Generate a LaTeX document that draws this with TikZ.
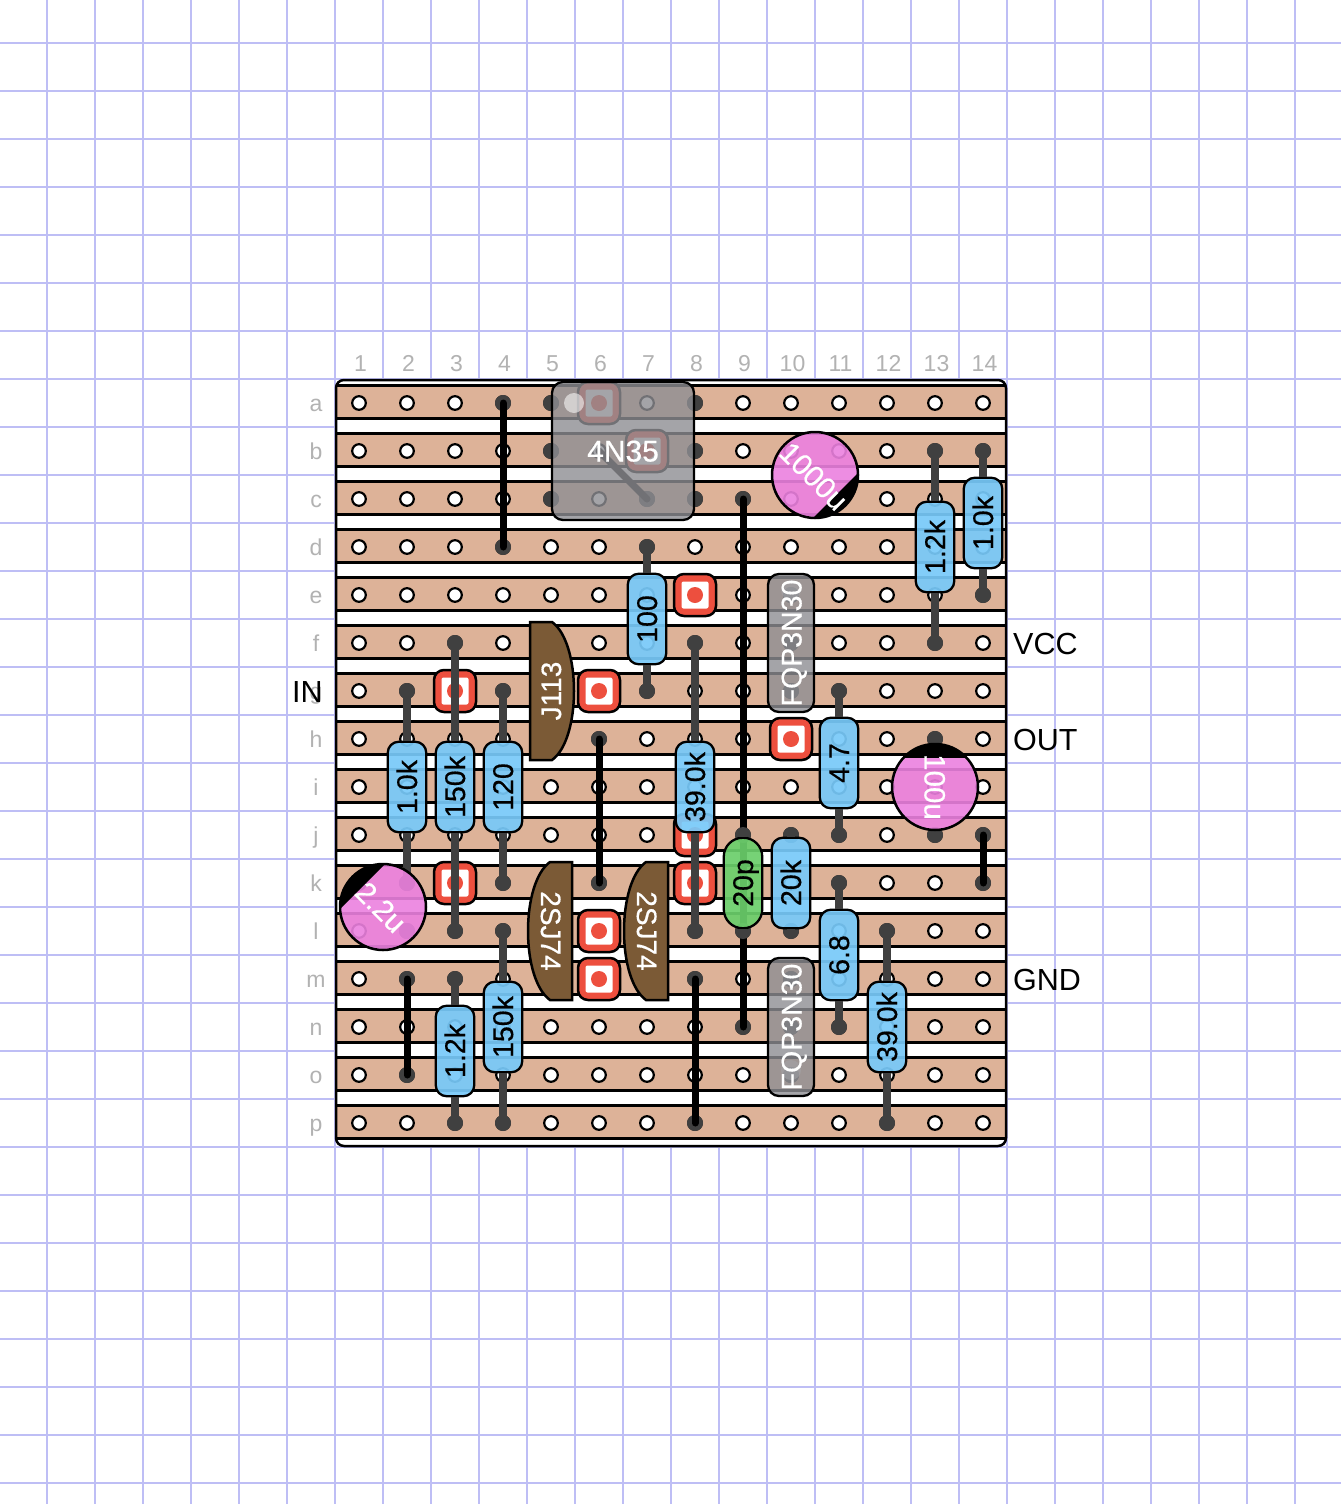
\documentclass[tikz,border=0pt]{standalone}
\usepackage{fontspec}
\setmainfont{Liberation Sans}
\newfontfamily\partfont[RawFeature={embolden=0.5}]{Liberation Sans}
\usetikzlibrary{calc}
\definecolor{gridc}{RGB}{190,190,245}
\definecolor{stripc}{RGB}{221,178,152}
\definecolor{labelc}{RGB}{178,178,178}
\definecolor{soldc}{RGB}{64,64,64}
\definecolor{padc}{RGB}{237,79,62}
\definecolor{resc}{RGB}{120,201,249}
\definecolor{greenc}{RGB}{107,207,107}
\definecolor{pinkc}{RGB}{236,129,223}
\definecolor{brownc}{RGB}{123,90,54}
\definecolor{icc}{RGB}{142,142,147}
\newcommand{\fsz}[1]{\fontsize{#1}{#1}\selectfont}
\tikzset{
  gridline/.style={draw=gridc,line width=2pt},
  boardline/.style={draw=black,line width=2.5pt},
  strip/.style={fill=stripc},
  stripline/.style={draw=black,line width=3pt},
  hole/.style={circle,draw=black,line width=2.2pt,fill=white,minimum size=13.6pt,inner sep=0pt},
  solder/.style={circle,fill=soldc,minimum size=16pt,inner sep=0pt},
  wireline/.style={draw=black,line width=7pt,line cap=round},
  leadline/.style={draw=soldc,line width=8.5pt},
  padbox/.style={rectangle,rounded corners=10pt,draw=black,line width=2.5pt,fill=padc,minimum size=42pt,inner sep=0pt},
  padin/.style={rectangle,rounded corners=2pt,fill=white,minimum size=27pt,inner sep=0pt},
  paddot/.style={circle,fill=padc,minimum size=16pt,inner sep=0pt},
  resbody/.style={rectangle,rounded corners=11pt,draw=black,line width=2.3pt,fill=resc,fill opacity=.92,draw opacity=1,text opacity=1,minimum width=90.5pt,minimum height=38.5pt,inner sep=0pt,font={\partfont\fsz{28.5}},text=black,text height=20pt,text depth=0pt},
  capbody/.style={resbody,rounded corners=19pt,fill=greenc},
  elbody/.style={circle,fill=pinkc,fill opacity=.9,minimum size=86pt,inner sep=0pt},
  elring/.style={draw=black,line width=2.5pt},
  eltext/.style={inner sep=0pt,text=white,font={\partfont\fsz{29.5}},text height=21pt,text depth=0pt},
  icbody/.style={rectangle,rounded corners=11pt,draw=black,line width=2.3pt,fill=icc,fill opacity=.8,draw opacity=1,text opacity=1,inner sep=0pt,text=white,text height=21pt,text depth=0pt},
  pindot/.style={circle,fill=white,fill opacity=.55,minimum size=20pt,inner sep=0pt},
  brownbody/.style={draw=black,line width=2.5pt,fill=brownc},
  browntext/.style={inner sep=0pt,text=white,font={\partfont\fsz{28}},text height=20pt,text depth=0pt},
  gridlabel/.style={inner sep=0pt,anchor=base,text=labelc,font=\fsz{23}},
  termlabel/.style={inner sep=0pt,anchor=base west,text=black,font=\fsz{30.5}},
}
\newcommand{\resistor}[5][resbody]{%
  \node[solder] (#2t) at (#3) {};
  \node[solder] (#2b) at (#4) {};
  \node[#1,rotate=90] (#2) at ($(#3)!.5!(#4)$) {#5};
  \draw[leadline] (#2t.center) -- (#2.east);
  \draw[leadline] (#2b.center) -- (#2.west);
}
\newcommand{\wire}[3]{%
  \node[solder] (#1t) at (#2) {};
  \node[solder] (#1b) at (#3) {};
  \draw[wireline] (#1t.center) -- (#1b.center);
}
\newcommand{\padat}[1]{%
  \node[padbox] (pad#1) at (#1) {};
  \node[padin] (padi#1) at (#1) {};
  \node[paddot] (padd#1) at (#1) {};
}
\begin{document}
\begin{tikzpicture}[x=1pt,y=-1pt]
\useasboundingbox (0,0) rectangle (1341,1504);
\fill[white] (0,0) rectangle (1341,1504);
% grid paper
\foreach \i in {0,...,26} \draw[gridline] ({47+48*\i},0) -- ({47+48*\i},1504);
\foreach \i in {0,...,30} \draw[gridline] (0,{43+48*\i}) -- (1341,{43+48*\i});
% board
\fill[white,rounded corners=8pt] (336,380) rectangle (1006,1146);
\begin{scope}
  \clip[rounded corners=8pt] (336,380) rectangle (1006,1146);
  \foreach \r [count=\i from 0] in {a,b,c,d,e,f,g,h,i,j,k,l,m,n,o,p} {
    \fill[strip] (330,{385+48*\i}) rectangle (1012,{418+48*\i});
    \draw[stripline] (330,{385+48*\i}) -- (1012,{385+48*\i});
    \draw[stripline] (330,{418+48*\i}) -- (1012,{418+48*\i});
  }
\end{scope}
\draw[boardline,rounded corners=8pt] (336,380) rectangle (1006,1146);
% coordinates and holes
\foreach \r [count=\i from 0] in {a,b,c,d,e,f,g,h,i,j,k,l,m,n,o,p} {
  \foreach \c in {1,...,14} {
    \coordinate (\r\c) at ({359+48*(\c-1)},{403+48*\i});
    \node[hole] (hole\r\c) at (\r\c) {};
  }
  \node[gridlabel] (row\r) at (316,{411+48*\i}) {\r};
}
\foreach \c in {1,...,14} \node[gridlabel] (col\c) at ({360.5+48*(\c-1)},371) {\c};
% terminal labels
\node[termlabel] (lblin) at (292,702) {IN};
\node[termlabel] (lblvcc) at (1013,654) {VCC};
\node[termlabel] (lblout) at (1013,750) {OUT};
\node[termlabel] (lblgnd) at (1013,990) {GND};
% pads under parts
\foreach \p in {a6,b7,e8,g3,g6,h10,j8,k3,k8,l6,m6} { \padat{\p} }
% optocoupler pins and jumper underneath
\foreach \p in {a5,b5,c5,a8,b8,c8} \node[solder] (pin\p) at (\p) {};
\foreach \p in {e10,f10,g10,m10,n10,o10} \node[solder] (pin\p) at (\p) {};
\node[solder] (ocj1) at (c7) {};
\draw[wireline] (ocj1.center) -- (b6);
% wires
\wire{wa}{a4}{d4}
\wire{wb}{c9}{n9}
\wire{wc}{h6}{k6}
\wire{wd}{m2}{o2}
\wire{we}{j14}{k14}
\wire{wf}{m8}{p8}
% transistors
\path[brownbody] (530,622) -- (552,622) .. controls (566,632) and (574,660) .. (574,691) .. controls (574,722) and (566,750) .. (552,760) -- (530,760) -- cycle;
\node[browntext,rotate=90] (j113) at (551,691) {J113};
\path[brownbody] (572,862) -- (550,862) .. controls (536,872) and (528,900) .. (528,931) .. controls (528,962) and (536,990) .. (550,1000) -- (572,1000) -- cycle;
\node[browntext,rotate=-90] (sj1) at (551,931) {2SJ74};
\path[brownbody] (668,862) -- (646,862) .. controls (632,872) and (624,900) .. (624,931) .. controls (624,962) and (632,990) .. (646,1000) -- (668,1000) -- cycle;
\node[browntext,rotate=-90] (sj2) at (647,931) {2SJ74};
% resistors
\resistor{r1}{d7}{g7}{100}
\resistor{r2}{b13}{f13}{1.2k}
\resistor{r3}{b14}{e14}{1.0k}
\resistor{r4}{g2}{k2}{1.0k}
\resistor{r5}{f3}{l3}{150k}
\resistor{r6}{g4}{k4}{120}
\resistor{r7}{f8}{l8}{39.0k}
\resistor{r8}{g11}{j11}{4.7}
\resistor{r9}{j10}{l10}{20k}
\resistor[capbody]{c1}{j9}{l9}{20p}
\resistor{r10}{k11}{n11}{6.8}
\resistor{r11}{l12}{p12}{39.0k}
\resistor{r12}{m3}{p3}{1.2k}
\resistor{r13}{l4}{p4}{150k}
% electrolytics
\node[solder] (c100a) at (h13) {};
\node[solder] (c100b) at (j13) {};
\node[elbody] (e1) at (815,475) {};
\begin{scope}
  \clip (815,475) circle (43);
  \fill[black] (870.9,460.1) -- (800.1,530.9) -- (822,552.8) -- (892.8,482) -- cycle;
\end{scope}
\draw[elring] (815,475) circle (43);
\node[eltext,rotate=-45] (e1t) at (814,476) {1000u};
\node[solder] (c22b) at (l2) {};
\node[elbody] (e2) at (383,907) {};
\begin{scope}
  \clip (383,907) circle (43);
  \fill[black] (397.9,851.1) -- (327.1,921.9) -- (305.2,900) -- (376,829.2) -- cycle;
\end{scope}
\draw[elring] (383,907) circle (43);
\node[eltext,rotate=-45] (e2t) at (381,907) {2.2u};
\node[elbody] (e3) at (935,787) {};
\begin{scope}
  \clip (935,787) circle (43);
  \fill[black] (880,700) rectangle (990,758);
\end{scope}
\draw[elring] (935,787) circle (43);
\node[eltext,rotate=-90] (e3t) at (935,787) {100u};
% ICs
\node[icbody,minimum width=142pt,minimum height=138pt,font={\partfont\fsz{30}}] (oc) at (623,451) {4N35};
\node[pindot] (ocdot) at (574,403) {};
\node[pindot] (q1dot) at (791,590) {};
\node[icbody,rotate=90,minimum width=138pt,minimum height=46pt,font={\partfont\fsz{28.5}}] (q1) at (791,643) {FQP3N30};
\node[pindot] (q2dot) at (791,1070) {};
\node[icbody,rotate=90,minimum width=138pt,minimum height=46pt,font={\partfont\fsz{28.5}}] (q2) at (791,1027) {FQP3N30};
\end{tikzpicture}
\end{document}
